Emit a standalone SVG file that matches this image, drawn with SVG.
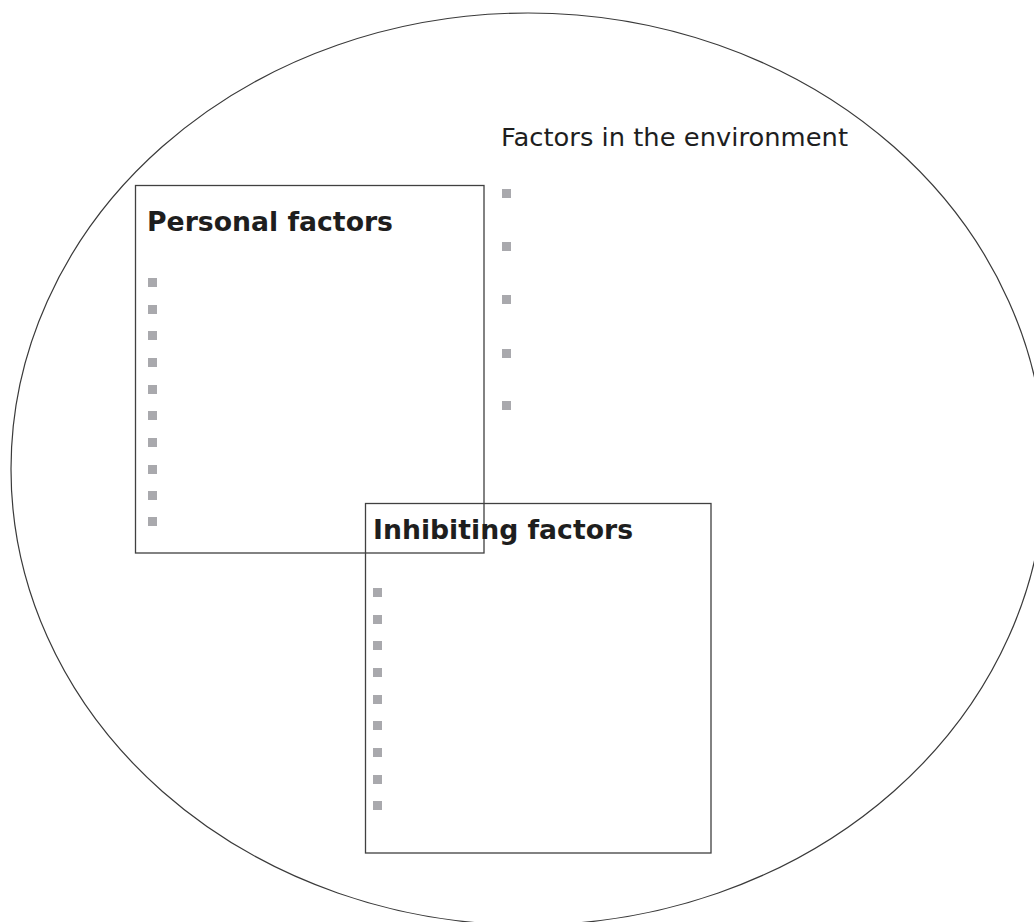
<svg xmlns="http://www.w3.org/2000/svg" width="1034" height="922" viewBox="0 0 1034 922">
<style>
.frame{fill:none;stroke:#3a3a3a;stroke-width:1.2}
.box{fill:none;stroke:#404040;stroke-width:1.3}
.bul{fill:#a9a9ad}
.h{font-family:"DejaVu Sans",Verdana,sans-serif;font-weight:bold;font-size:27px;fill:#1e1e1e}
.t{font-family:"DejaVu Sans",Verdana,sans-serif;font-size:25px;fill:#1e1e1e}
</style>
<rect width="1034" height="922" fill="#ffffff"/>
<g id="environment">
<ellipse class="frame" cx="528" cy="469" rx="517" ry="456"/>
<text class="t" x="501" y="146" textLength="347" lengthAdjust="spacingAndGlyphs">Factors in the environment</text>
<rect class="bul" x="502" y="189" width="9" height="9"/>
<rect class="bul" x="502" y="242" width="9" height="9"/>
<rect class="bul" x="502" y="295" width="9" height="9"/>
<rect class="bul" x="502" y="349" width="9" height="9"/>
<rect class="bul" x="502" y="401" width="9" height="9"/>
</g>
<g id="personal">
<rect class="box" x="135.5" y="185.5" width="348.5" height="367.5"/>
<text class="h" x="147" y="231" textLength="246" lengthAdjust="spacingAndGlyphs">Personal factors</text>
<rect class="bul" x="148" y="278" width="9" height="9"/>
<rect class="bul" x="148" y="305" width="9" height="9"/>
<rect class="bul" x="148" y="331" width="9" height="9"/>
<rect class="bul" x="148" y="358" width="9" height="9"/>
<rect class="bul" x="148" y="385" width="9" height="9"/>
<rect class="bul" x="148" y="411" width="9" height="9"/>
<rect class="bul" x="148" y="438" width="9" height="9"/>
<rect class="bul" x="148" y="465" width="9" height="9"/>
<rect class="bul" x="148" y="491" width="9" height="9"/>
<rect class="bul" x="148" y="517" width="9" height="9"/>
</g>
<g id="inhibiting">
<rect class="box" x="365.5" y="503.5" width="345.5" height="349.5"/>
<text class="h" x="373" y="539" textLength="260" lengthAdjust="spacingAndGlyphs">Inhibiting factors</text>
<rect class="bul" x="373" y="588" width="9" height="9"/>
<rect class="bul" x="373" y="615" width="9" height="9"/>
<rect class="bul" x="373" y="641" width="9" height="9"/>
<rect class="bul" x="373" y="668" width="9" height="9"/>
<rect class="bul" x="373" y="695" width="9" height="9"/>
<rect class="bul" x="373" y="721" width="9" height="9"/>
<rect class="bul" x="373" y="748" width="9" height="9"/>
<rect class="bul" x="373" y="775" width="9" height="9"/>
<rect class="bul" x="373" y="801" width="9" height="9"/>
</g>
<g id="connectors"></g>
</svg>
